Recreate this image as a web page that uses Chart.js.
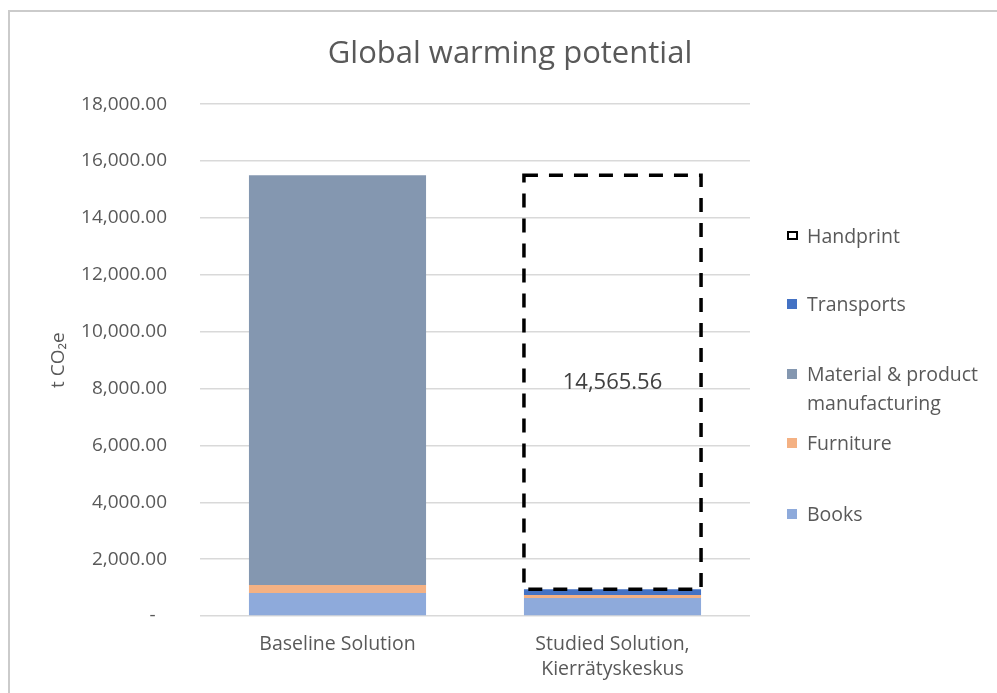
<!DOCTYPE html>
<html>
<head>
<meta charset="utf-8">
<title>Global warming potential</title>
<script src="https://cdn.jsdelivr.net/npm/chart.js@4.4.1/dist/chart.umd.min.js"></script>
<style>
  html, body { margin: 0; padding: 0; background: #ffffff; }
  body { width: 997px; height: 693px; position: relative; overflow: hidden; font-family: "Open Sans", "Noto Sans", sans-serif; }
  #frame { position: absolute; left: 8px; top: 10px; width: 1000px; height: 700px; border-left: 2px solid #cbcbcb; border-top: 2px solid #cbcbcb; box-sizing: border-box; }
  #wrap { position: absolute; left: 0; top: 0; width: 997px; height: 693px; }
  #legend { position: absolute; left: 0; top: 0; width: 997px; height: 693px; pointer-events: none; }
  .item { position: absolute; left: 787px; color: #595959; font-size: 19.5px; line-height: 29px; }
  .swatch { position: absolute; left: 0; top: 10px; width: 10px; height: 10px; }
  .label { position: absolute; left: 20px; top: 0; white-space: nowrap; }
  .dashbox { box-sizing: border-box; width: 11px; height: 9px; top: 10px; border: 2.5px dashed #000; }
</style>
</head>
<body>
<div id="frame"></div>
<div id="wrap"><canvas id="chart" width="997" height="693"></canvas></div>
<div id="legend"></div>
<script>
// Categories and stacked segment values (t CO2e)
const categories = ['Baseline Solution', ['Studied Solution,', 'Kierrätyskeskus']];
const books      = [810, 630];
const furniture  = [280, 110];
const material   = [14415.56, 0];
const transports = [0, 200];
const handprint  = [null, 14565.56];

const yTicks = [0, 2000, 4000, 6000, 8000, 10000, 12000, 14000, 16000, 18000];

const seriesNames  = ['Books', 'Furniture', 'Material & product manufacturing', 'Transports', 'Handprint'];
const seriesColors = ['#8eaadb', '#f4b183', '#8497b0', '#4472c4', 'rgba(0,0,0,0)'];

const FONT = '"Open Sans", "Noto Sans", sans-serif';
const fmt = new Intl.NumberFormat('en-US', { minimumFractionDigits: 2, maximumFractionDigits: 2 });

// Dashed outline plus value label for the handprint segment
const handprintOutline = {
  id: 'handprintOutline',
  afterDatasetsDraw(chart) {
    const idx = chart.data.datasets.findIndex(d => d.label === 'Handprint');
    const meta = chart.getDatasetMeta(idx);
    const ctx = chart.ctx;
    meta.data.forEach((el, i) => {
      const v = chart.data.datasets[idx].data[i];
      if (v === null || v === undefined) return;
      const { x, y, base, width } = el.getProps(['x', 'y', 'base', 'width'], true);
      ctx.save();
      ctx.strokeStyle = '#000000';
      ctx.lineWidth = 3.5;
      ctx.setLineDash([14, 11]);
      ctx.strokeRect(x - width / 2, y, width, base - y);
      ctx.setLineDash([]);
      ctx.fillStyle = '#404040';
      ctx.font = '22px ' + FONT;
      ctx.textAlign = 'center';
      ctx.textBaseline = 'middle';
      ctx.fillText(fmt.format(v), x, (y + base) / 2 + 1);
      ctx.restore();
    });
  }
};

const datasets = [books, furniture, material, transports, handprint].map((d, i) => ({
  label: seriesNames[i],
  data: d,
  backgroundColor: seriesColors[i],
  borderWidth: 0,
  categoryPercentage: 1,
  barPercentage: 0.644,
  yAxisID: 'y'
}));

new Chart(document.getElementById('chart'), {
  type: 'bar',
  data: { labels: categories, datasets },
  options: {
    responsive: false,
    animation: false,
    events: [],
    layout: { padding: { left: 23, right: 0, top: 0, bottom: 0 } },
    plugins: {
      legend: { display: false },
      tooltip: { enabled: false },
      title: {
        display: true,
        text: 'Global warming potential',
        color: '#595959',
        font: { family: FONT, size: 31, weight: 'normal', lineHeight: 1.2 },
        padding: { top: 36, bottom: 31 }
      }
    },
    scales: {
      x: {
        stacked: true,
        grid: { display: false, drawTicks: false },
        border: { display: false },
        ticks: {
          color: '#595959',
          font: { family: FONT, size: 19.5, lineHeight: 1.28 },
          padding: 16,
          maxRotation: 0,
          autoSkip: false
        },
        afterFit(scale) { scale.height = 77; }
      },
      y: {
        stacked: true,
        min: 0,
        max: 18000,
        afterBuildTicks(scale) { scale.ticks = yTicks.map(v => ({ value: v })); },
        grid: { color: '#d9d9d9', lineWidth: 1.5, drawTicks: false },
        border: { display: false },
        ticks: {
          color: '#595959',
          font: { family: FONT, size: 19 },
          padding: 33,
          callback: v => v === 0 ? '-\u2002\u200A' : fmt.format(v)
        },
        title: {
          display: true,
          text: 't CO\u2082e',
          color: '#595959',
          font: { family: FONT, size: 19 },
          padding: { top: 24, bottom: 0 }
        },
        afterFit(scale) { scale.width = 177; }
      },
      // empty right-hand axis that reserves room for the legend column
      legendSpace: {
        position: 'right',
        display: true,
        grid: { display: false, drawTicks: false },
        border: { display: false },
        ticks: { display: false },
        afterFit(scale) { scale.width = 247; }
      }
    }
  },
  plugins: [handprintOutline]
});

// Legend on the right, listed top-down in reverse stacking order
const legendTops = [221, 289, 359, 428, 499];
const legendLines = {
  'Material & product manufacturing': 'Material &amp; product<br>manufacturing'
};
const legend = document.getElementById('legend');
seriesNames.slice().reverse().forEach((name, k) => {
  const srcIdx = seriesNames.length - 1 - k;
  const item = document.createElement('div');
  item.className = 'item';
  item.style.top = legendTops[k] + 'px';
  const sw = document.createElement('div');
  if (name === 'Handprint') {
    sw.className = 'swatch dashbox';
  } else {
    sw.className = 'swatch';
    sw.style.background = seriesColors[srcIdx];
  }
  const lb = document.createElement('div');
  lb.className = 'label';
  lb.innerHTML = legendLines[name] || name;
  item.appendChild(sw);
  item.appendChild(lb);
  legend.appendChild(item);
});
</script>
</body>
</html>
